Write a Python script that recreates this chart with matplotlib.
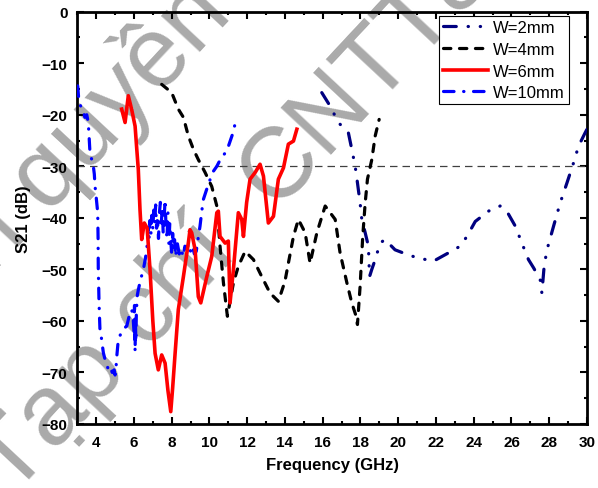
import matplotlib
matplotlib.use('Agg')
import matplotlib.pyplot as plt
import numpy as np
from matplotlib.ticker import MultipleLocator


# S21 curves read per slot width (frequency in GHz, S21 in dB)
freq_2mm = [15.95, 16.39, 16.83, 17.36, 17.54, 17.72, 17.84, 17.98, 18.07, 18.25,
            18.42, 18.48, 18.6, 18.78, 19.04, 19.3, 19.83, 20.54, 21.07, 21.87,
            22.66, 23.28, 23.64, 24.08, 24.78, 25.4, 25.75, 26.2, 26.55, 26.9,
            27.17, 27.52, 27.61, 27.73, 27.88, 28.23, 28.58, 28.94, 29.29, 29.55,
            29.9, 30.0]
s21_2mm = [-15.7, -18.3, -21.5, -23.5, -26.7, -30.0, -33.2, -37.1, -40.3, -42.9,
           -45.5, -51.4, -50.0, -48.1, -44.9, -44.2, -46.2, -47.2, -47.8, -48.4,
           -46.8, -45.5, -43.6, -40.7, -38.7, -37.7, -38.7, -41.6, -44.9, -48.1,
           -49.7, -52.0, -54.6, -49.4, -46.2, -41.6, -37.1, -33.2, -29.3, -26.1,
           -23.5, -22.8]

freq_4mm = [7.47, 8.0, 8.35, 8.62, 8.88, 9.15, 9.41, 9.77, 10.12, 10.39,
            10.56, 10.74, 10.95, 11.27, 11.53, 11.89, 12.33, 12.77, 13.21, 13.65,
            14.0, 14.18, 14.45, 14.71, 15.07, 15.33, 15.69, 16.13, 16.66, 16.92,
            17.28, 17.54, 17.77, 17.84, 17.98, 18.12, 18.25, 18.37, 18.6, 18.78,
            18.99]
s21_4mm = [-14.1, -15.7, -18.9, -20.5, -24.1, -26.7, -28.7, -31.2, -33.9, -37.7,
           -45.5, -52.6, -59.1, -52.6, -49.4, -46.5, -48.1, -51.4, -54.6, -56.2,
           -52.3, -48.8, -43.6, -40.3, -42.9, -48.8, -42.9, -37.7, -40.3, -46.8,
           -52.6, -56.5, -59.1, -60.7, -53.3, -43.6, -37.1, -32.5, -28.7, -24.1,
           -20.9]

freq_6mm = [5.35, 5.53, 5.7, 5.88, 6.06, 6.15, 6.23, 6.32, 6.41, 6.55,
            6.7, 6.85, 7.0, 7.12, 7.29, 7.47, 7.65, 7.8, 7.95, 8.05,
            8.18, 8.35, 8.62, 8.88, 8.97, 9.06, 9.24, 9.41, 9.54, 9.86,
            10.12, 10.39, 10.47, 10.56, 10.83, 11.0, 11.09, 11.27, 11.53, 11.71,
            11.8, 11.97, 12.15, 12.42, 12.68, 12.86, 13.12, 13.39, 13.65, 13.92,
            14.18, 14.45, 14.63]
s21_6mm = [-18.9, -21.5, -16.3, -19.0, -22.2, -26.7, -30.6, -38.4, -44.2, -41.0,
           -42.0, -50.0, -60.0, -66.3, -69.5, -66.6, -68.2, -73.5, -77.6, -73.0,
           -66.3, -57.8, -51.4, -44.9, -42.3, -42.9, -46.2, -55.3, -56.5, -51.4,
           -47.5, -39.0, -38.7, -43.6, -44.9, -44.5, -56.5, -50.0, -39.0, -40.3,
           -43.6, -37.0, -32.5, -31.2, -29.6, -31.9, -41.0, -39.7, -32.5, -30.3,
           -25.7, -25.1, -22.8]

freq_10mm = [3.02, 3.09, 3.2, 3.3, 3.4, 3.5, 3.58, 3.62, 3.67, 3.75,
             3.85, 3.9, 3.94, 4.0, 4.08, 4.1, 4.11, 4.13, 4.15, 4.2,
             4.25, 4.3, 4.38, 4.47, 4.56, 4.65, 4.75, 4.85, 4.95, 5.0,
             5.05, 5.1, 5.17, 5.3, 5.45, 5.62, 5.75, 5.88, 5.95, 6.0,
             6.03, 6.06, 6.08, 6.1, 6.13, 6.18, 6.23, 6.35, 6.5, 6.6,
             6.68, 6.75, 6.8, 6.85, 6.9, 6.95, 7.0, 7.05, 7.1, 7.15,
             7.2, 7.25, 7.3, 7.35, 7.4, 7.45, 7.5, 7.55, 7.6, 7.65,
             7.7, 7.75, 7.8, 7.85, 7.9, 7.95, 8.0, 8.05, 8.1, 8.15,
             8.2, 8.3, 8.4, 8.5, 8.6, 8.7, 8.8, 8.9, 9.0, 9.1,
             9.2, 9.3, 9.4, 9.5, 9.6, 9.68, 9.85, 10.03, 10.2, 10.39,
             10.6, 10.92, 11.2, 11.45]
s21_10mm = [-14.4, -17.6, -18.5, -19.0, -20.5, -20.0, -21.5, -24.0, -27.3, -28.5,
            -30.0, -31.5, -33.9, -36.0, -39.0, -44.0, -50.0, -53.0, -56.5, -61.8,
            -62.5, -64.0, -66.2, -67.5, -68.5, -69.5, -69.0, -70.0, -69.5, -70.5,
            -69.0, -66.5, -63.7, -62.5, -61.5, -61.0, -59.0, -57.8, -59.0, -62.0,
            -57.0, -66.0, -60.0, -64.0, -58.0, -55.0, -54.0, -52.0, -50.0, -48.0,
            -46.2, -42.0, -44.0, -40.5, -43.0, -39.5, -42.0, -38.5, -41.0, -37.5,
            -42.0, -40.0, -44.0, -39.0, -37.0, -41.0, -38.0, -43.0, -40.0, -36.5,
            -42.0, -44.0, -39.0, -45.0, -41.0, -44.5, -47.0, -43.0, -46.0, -44.0,
            -47.5, -45.0, -47.0, -46.0, -47.5, -45.5, -46.0, -45.0, -46.5, -45.5,
            -47.0, -46.5, -44.0, -41.6, -38.5, -36.4, -34.5, -32.6, -31.0, -30.0,
            -28.5, -27.0, -24.0, -20.5]

labels = ['W=2mm', 'W=4mm', 'W=6mm', 'W=10mm']
threshold = -30

plt.rcParams['font.family'] = ['Liberation Sans', 'DejaVu Sans']
plt.rcParams['font.weight'] = 'bold'

fig = plt.figure(figsize=(5.98, 4.89), dpi=100)
ax = fig.add_axes([0.1293, 0.1309, 0.8523, 0.8431])
ax.set_facecolor('none')

# grey watermark running diagonally, kept under every axes artist
wm_kw = dict(rotation=47, rotation_mode='anchor', ha='left', va='baseline',
             fontsize=72, fontweight='normal', color='#aaaaaa', zorder=0.5,
             transform=fig.transFigure, clip_on=False)
ax.text(-92 / 598, 1 - 366 / 489, 'Bản quyền thuộc về', **wm_kw)
ax.text(12 / 598, 1 - 498 / 489, 'Tạp chí  CNTT&TT', **wm_kw)

ax.axhline(threshold, color='#404040', lw=0.9, dashes=(6, 4), zorder=2)

ax.plot(freq_2mm, s21_2mm, color='#000080', lw=2.3, dashes=(4, 3.7, 0.1, 3.7, 0.1, 3.7),
        dash_capstyle='round', label=labels[0], zorder=3)
ax.plot(freq_4mm, s21_4mm, color='black', lw=2.3, dashes=(2.3, 2.7),
        dash_capstyle='round', label=labels[1], zorder=3)
ax.plot(freq_6mm, s21_6mm, color='#ff0000', lw=2.6, label=labels[2], zorder=4)
ax.plot(freq_10mm, s21_10mm, color='#0000ff', lw=2.3, dashes=(3.3, 3, 0.1, 3),
        dash_capstyle='round', label=labels[3], zorder=3)

ax.set_xlim(3, 30)
ax.set_ylim(-80, 0)
ax.xaxis.set_major_locator(MultipleLocator(2))
ax.xaxis.set_minor_locator(MultipleLocator(1))
ax.yaxis.set_major_locator(MultipleLocator(10))
ax.yaxis.set_minor_locator(MultipleLocator(5))
ax.tick_params(which='both', direction='in', top=True, right=True, width=1.5)
ax.tick_params(which='major', length=5, labelsize=11, pad=7)
ax.tick_params(which='minor', length=2.5)
ax.tick_params(axis='x', which='major', pad=8)
for sp in ax.spines.values():
    sp.set_linewidth(2.0)

ax.set_xlabel('Frequency (GHz)', fontsize=12, fontweight='bold', labelpad=6)
ax.set_ylabel('S21 (dB)', fontsize=12, fontweight='bold', labelpad=8)

leg = ax.legend(loc='upper right', bbox_to_anchor=(0.9647, 0.9896), borderaxespad=0,
                prop={'size': 12, 'weight': 'normal'}, handlelength=2.7,
                handletextpad=0.3, labelspacing=0.4,
                fancybox=False, framealpha=1, edgecolor='black', borderpad=0.25)
leg.get_frame().set_linewidth(0.8)
leg.set_zorder(5)

fig.savefig('out.png', dpi=100)
